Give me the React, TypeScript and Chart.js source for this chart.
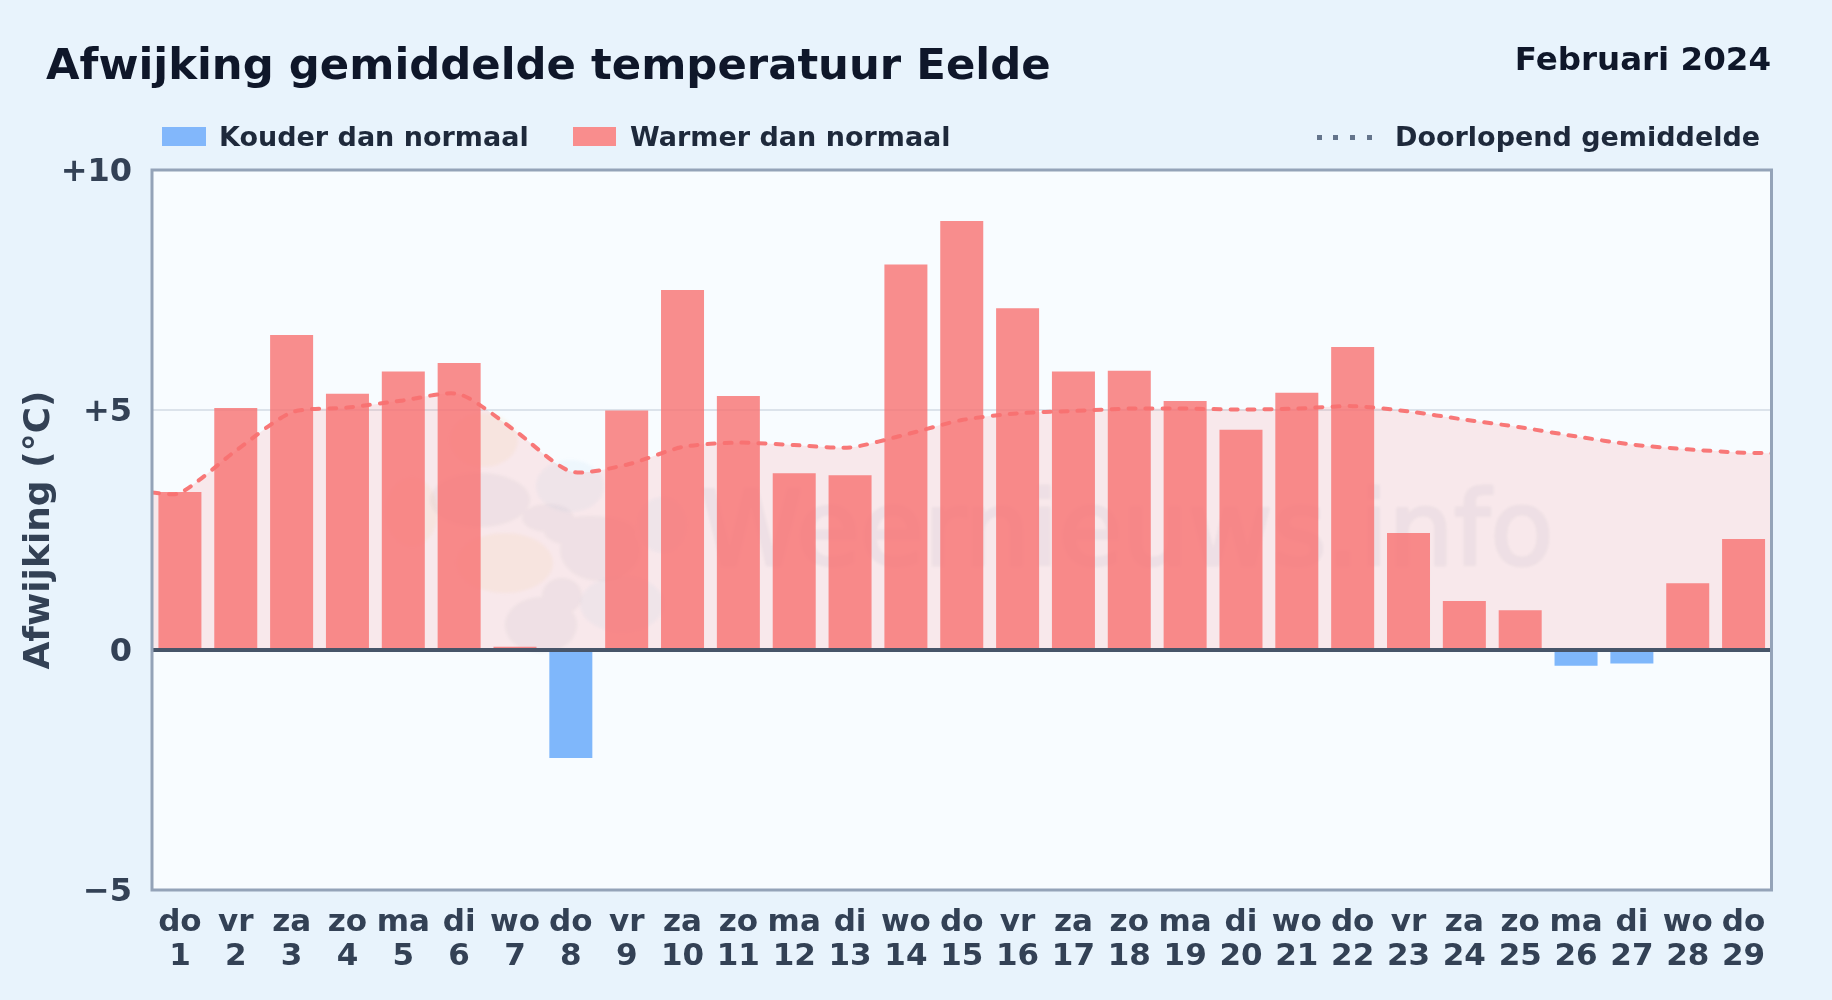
import React, { useEffect, useRef } from "react";
import { Chart, registerables } from "chart.js";

Chart.register(...registerables);

const weekdays = ["do","vr","za","zo","ma","di","wo","do","vr","za","zo","ma","di","wo","do","vr","za","zo","ma","di","wo","do","vr","za","zo","ma","di","wo","do"];
const dayNumbers = ["1","2","3","4","5","6","7","8","9","10","11","12","13","14","15","16","17","18","19","20","21","22","23","24","25","26","27","28","29"];
const warmValues = [3.29,5.04,6.56,5.34,5.8,5.98,0.07,null,4.99,7.5,5.29,3.68,3.64,8.03,8.94,7.12,5.8,5.82,5.19,4.59,5.36,6.31,2.44,1.02,0.83,null,null,1.39,2.31];
const coldValues = [null,null,null,null,null,null,null,-2.25,null,null,null,null,null,null,null,null,null,null,null,null,null,null,null,null,null,-0.33,-0.28,null,null];
const runningX = [0,0.5,1.5,2.5,3.5,4.5,5.5,6.5,7.5,8.5,9.5,10.5,11.5,12.5,13.5,14.5,15.5,16.5,17.5,18.5,19.5,20.5,21.5,22.5,23.5,24.5,25.5,26.5,27.5,28.5,29];
const runningMean = [3.28,3.27,4.15,4.95,5.05,5.2,5.33,4.57,3.72,3.86,4.23,4.32,4.27,4.22,4.49,4.79,4.93,4.98,5.03,5.03,5.01,5.03,5.08,4.97,4.8,4.64,4.45,4.28,4.18,4.11,4.1];
const yTicks = { 10: "+10", 5: "+5", 0: "0", [-5]: "\u22125" } as Record<number, string>;

const TITLE = "Afwijking gemiddelde temperatuur Eelde";
const PERIOD = "Februari 2024";
const COLD_LABEL = "Kouder dan normaal";
const WARM_LABEL = "Warmer dan normaal";
const MEAN_LABEL = "Doorlopend gemiddelde";
const WATERMARK = "Weernieuws.info";

const FONT = '"DejaVu Sans", sans-serif';

const decor = {
  id: "decor",
  beforeDraw(chart: any) {
    const { ctx, chartArea: a } = chart;
    ctx.save();
    ctx.fillStyle = "#f8fcff";
    ctx.fillRect(a.left, a.top, a.right - a.left, a.bottom - a.top);
    const blobs = (list: number[][], c: string, alpha: number) => {
      ctx.globalAlpha = alpha;
      ctx.fillStyle = c;
      ctx.beginPath();
      list.forEach(([x, y, rx, ry]) => {
        ctx.moveTo(x + rx, y);
        ctx.ellipse(x, y, rx, ry, 0, 0, Math.PI * 2);
      });
      ctx.fill("nonzero");
    };
    ctx.filter = "blur(1.5px)";
    blobs([[484, 440, 34, 27], [412, 512, 26, 34], [505, 563, 48, 30]], "#f5b942", 0.07);
    blobs([[570, 486, 34, 26], [622, 604, 42, 28], [662, 525, 24, 28]], "#6fb5e8", 0.07);
    blobs([[480, 500, 50, 27], [600, 550, 40, 31], [590, 532, 46, 16], [548, 518, 26, 14], [541, 625, 36, 28], [562, 596, 20, 18]], "#475a84", 0.055);

    const layer = document.createElement("canvas");
    layer.width = chart.width;
    layer.height = chart.height;
    const l = layer.getContext("2d")!;
    l.fillStyle = "#475a84";
    l.strokeStyle = "#475a84";
    l.lineWidth = 3;
    l.lineJoin = "round";
    l.font = `103.5px ${FONT}`;
    l.fillText(WATERMARK, 700, 565);
    l.strokeText(WATERMARK, 700, 565);
    ctx.globalAlpha = 0.06;
    ctx.filter = "blur(1px)";
    ctx.drawImage(layer, 0, 0);
    ctx.restore();
  },
  afterDatasetsDraw(chart: any) {
    const { ctx, chartArea: a, scales } = chart;
    const y0 = scales.y.getPixelForValue(0);
    ctx.save();
    ctx.strokeStyle = "#475569";
    ctx.lineWidth = 4;
    ctx.beginPath();
    ctx.moveTo(a.left, y0);
    ctx.lineTo(a.right, y0);
    ctx.stroke();
    ctx.strokeStyle = "#94a3b8";
    ctx.lineWidth = 3;
    ctx.strokeRect(a.left, a.top, a.right - a.left, a.bottom - a.top);

    ctx.textBaseline = "alphabetic";
    ctx.textAlign = "left";
    ctx.fillStyle = "#0f172a";
    ctx.font = `bold 43.35px ${FONT}`;
    ctx.fillText(TITLE, 46, 79);
    ctx.textAlign = "right";
    ctx.font = `bold 32.5px ${FONT}`;
    ctx.fillText(PERIOD, 1771, 70);

    ctx.textAlign = "left";
    ctx.textBaseline = "middle";
    ctx.fillStyle = "#82b7fb";
    ctx.fillRect(162, 127, 44, 19);
    ctx.fillStyle = "#f98d8d";
    ctx.fillRect(573, 127, 43, 19);
    ctx.fillStyle = "#1e293b";
    ctx.font = `bold 27px ${FONT}`;
    ctx.fillText(COLD_LABEL, 219, 139);
    ctx.fillText(WARM_LABEL, 630, 139);
    ctx.fillText(MEAN_LABEL, 1395, 139);
    ctx.fillStyle = "#64748b";
    [1317, 1333, 1350, 1367].forEach((x) => ctx.fillRect(x, 135, 5, 5));
    ctx.restore();
  },
};

export default function App() {
  const ref = useRef<HTMLCanvasElement>(null);
  useEffect(() => {
    document.body.style.margin = "0";
    document.body.style.background = "#e8f3fc";
    const chart = new Chart(ref.current!, {
      type: "bar",
      data: {
        labels: weekdays.map((d, i) => [d, dayNumbers[i]]),
        datasets: [
          {
            type: "line",
            label: MEAN_LABEL,
            data: runningX.map((x, i) => ({ x, y: runningMean[i] })),
            xAxisID: "x2",
            order: 0,
            borderColor: "rgba(248,113,113,0.95)",
            borderWidth: 4,
            borderDash: [7, 10],
            borderCapStyle: "round",
            pointRadius: 0,
            tension: 0.25,
            fill: { target: { value: 0 }, above: "rgba(248,113,113,0.14)", below: "rgba(248,113,113,0.14)" },
          },
          {
            label: WARM_LABEL,
            data: warmValues,
            order: 1,
            backgroundColor: "rgba(248,113,113,0.8)",
            grouped: false,
            barPercentage: 0.77,
            categoryPercentage: 1,
          },
          {
            label: COLD_LABEL,
            data: coldValues,
            order: 2,
            backgroundColor: "rgba(96,165,250,0.8)",
            grouped: false,
            barPercentage: 0.77,
            categoryPercentage: 1,
          },
        ] as any,
      },
      plugins: [decor],
      options: {
        responsive: false,
        animation: false,
        devicePixelRatio: 1,
        layout: { padding: { top: 170, right: 60.5, left: 0, bottom: 0 } },
        plugins: {
          legend: { display: false },
          title: { display: false },
          tooltip: { enabled: false },
          filler: { drawTime: "beforeDatasetsDraw" },
        },
        scales: {
          x: {
            type: "category",
            offset: true,
            grid: { display: false },
            border: { display: false },
            afterFit(s: any) { s.height = 110; },
            ticks: {
              autoSkip: false,
              maxRotation: 0,
              minRotation: 0,
              padding: 8,
              color: "#334155",
              font: { family: FONT, weight: "bold", size: 31, lineHeight: 1.1 },
            },
          },
          x2: { type: "linear", min: 0, max: 29, display: false, offset: false },
          y: {
            min: -5,
            max: 10,
            afterFit(s: any) { s.width = 152; },
            border: { display: false },
            grid: {
              drawTicks: false,
              color: (c: any) => (c.tick.value === 5 ? "rgba(148,163,184,0.28)" : "rgba(0,0,0,0)"),
              lineWidth: 2,
            },
            title: {
              display: true,
              text: "Afwijking (\u00b0C)",
              color: "#334155",
              font: { family: FONT, weight: "bold", size: 36 },
              padding: { top: 18, bottom: 0 },
            },
            ticks: {
              stepSize: 5,
              padding: 20,
              labelOffset: 2.5,
              color: "#334155",
              font: { family: FONT, weight: "bold", size: 32 },
              callback: (v: any) => yTicks[v] ?? "",
            },
          },
        },
      } as any,
    });
    return () => chart.destroy();
  }, []);
  return <canvas ref={ref} width={1832} height={1000} style={{ display: "block" }} />;
}
